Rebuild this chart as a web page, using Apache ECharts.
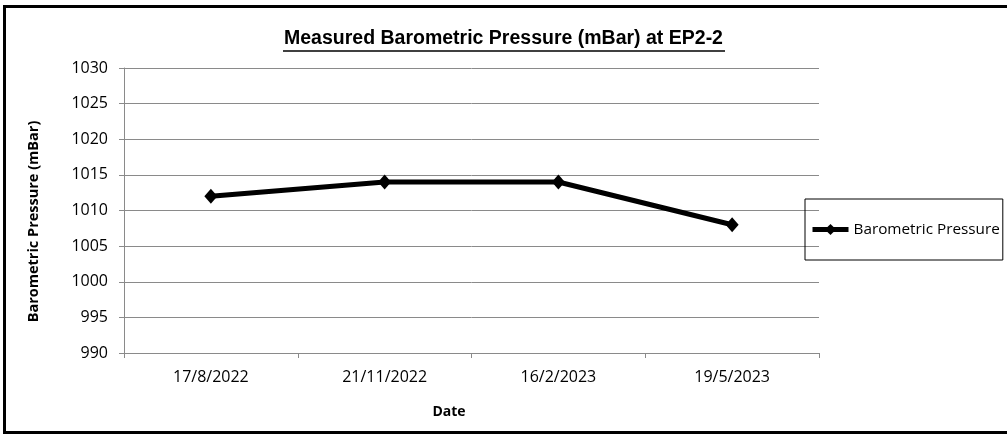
<!DOCTYPE html>
<html>
<head>
<meta charset="utf-8">
<script src="https://cdn.jsdelivr.net/npm/echarts@6/dist/echarts.min.js"></script>
<style>
    html, body { margin: 0; padding: 0; background: #fff; overflow: hidden; }
    #chart { position: absolute; left: 0; top: 0; width: 1007px; height: 434px; }
    /* black frame round the chart, right side runs off the picture */
    #frame {
        position: absolute; left: 3px; top: 5px; width: 1004px; height: 429px;
        box-sizing: border-box; border: 3px solid #000; border-right: none; pointer-events: none;
    }
</style>
</head>
<body>
<div id="chart"></div>
<div id="frame"></div>
<script>
    var dates = ['17/8/2022', '21/11/2022', '16/2/2023', '19/5/2023'];
    var pressure = [1012, 1014, 1014, 1008];
    var yMin = 990, yMax = 1030, yStep = 5;

    var labelFont = '"Open Sans", sans-serif';
    var gridColor = '#8a8a8a';

    var chart = echarts.init(document.getElementById('chart'));

    var option = {
        animation: false,
        backgroundColor: '#fff',
        title: {
            text: 'Measured Barometric Pressure (mBar) at EP2-2',
            left: 'center',
            top: 29,
            textStyle: {
                fontFamily: '"Liberation Sans", Arial, sans-serif',
                fontWeight: 'bold',
                fontSize: 19.5,
                color: '#000'
            },
            padding: 0
        },
        // underline of the title
        graphic: [{
            type: 'line',
            shape: { x1: 283, y1: 51, x2: 725, y2: 51 },
            style: { stroke: '#000', lineWidth: 1.5 }
        }],
        legend: {
            orient: 'vertical',
            left: 805,
            top: 199,
            padding: [23, 3, 23, 5],
            borderColor: '#000',
            borderWidth: 1,
            itemWidth: 36,
            itemHeight: 14,
            lineStyle: { width: 5 },
            textStyle: { fontFamily: labelFont, fontSize: 15.3, color: '#000' },
            data: ['Barometric Pressure']
        },
        grid: { left: 124, right: 188, top: 68, bottom: 81 },
        xAxis: {
            type: 'category',
            data: dates,
            name: 'Date',
            nameLocation: 'middle',
            nameGap: 52,
            nameTextStyle: {
                fontFamily: labelFont, fontWeight: 'bold', fontSize: 14, color: '#000',
                padding: [0, 45, 0, 0]
            },
            axisLine: { lineStyle: { color: gridColor, width: 1 } },
            axisTick: { show: true, length: 5, lineStyle: { color: gridColor } },
            axisLabel: { margin: 16, fontFamily: labelFont, fontSize: 16, color: '#000' }
        },
        yAxis: {
            type: 'value',
            min: yMin,
            max: yMax,
            interval: yStep,
            name: 'Barometric Pressure (mBar)',
            nameLocation: 'middle',
            nameGap: 83,
            nameTextStyle: {
                fontFamily: labelFont, fontWeight: 'bold', fontSize: 14.5, color: '#000',
                padding: [0, 22, 0, 0]
            },
            axisLine: { show: true, lineStyle: { color: gridColor, width: 1 } },
            axisTick: { show: true, length: 5, lineStyle: { color: gridColor } },
            axisLabel: {
                margin: 16, fontFamily: labelFont, fontSize: 16, color: '#000',
                formatter: function (v) { return String(v); }
            },
            splitLine: { show: true, lineStyle: { color: gridColor, width: 1 } }
        },
        series: [{
            name: 'Barometric Pressure',
            type: 'line',
            data: pressure,
            symbol: 'diamond',
            symbolSize: [13, 15],
            color: '#000',
            lineStyle: { color: '#000', width: 5 },
            itemStyle: { color: '#000' }
        }]
    };

    chart.setOption(option);
</script>
</body>
</html>
